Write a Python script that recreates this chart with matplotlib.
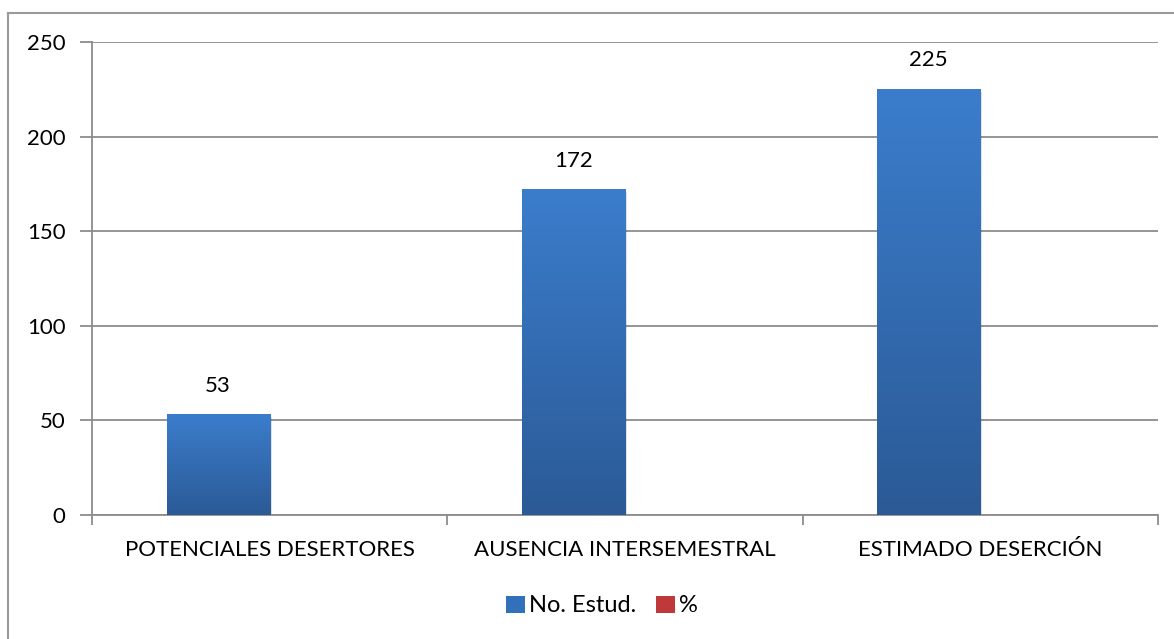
import numpy as np
import matplotlib
matplotlib.use("Agg")
import matplotlib.pyplot as plt
from matplotlib.patches import Rectangle, Patch
from matplotlib.lines import Line2D
from matplotlib.colors import LinearSegmentedColormap

plt.rcParams['font.family'] = ['Lato', 'DejaVu Sans']

categories = ['POTENCIALES DESERTORES', 'AUSENCIA INTERSEMESTRAL', 'ESTIMADO DESERCIÓN']
estud = [53, 172, 225]
pct = [0, 0, 0]  # second series, nothing visible in the chart
series_names = ['No. Estud.', '%']

fig = plt.figure(figsize=(11.74, 6.39), dpi=100)
ax = fig.add_axes([92/1174, 1 - 515/639, (1158 - 92)/1174, (515 - 42)/639])

# outer chart frame (only left/top visible in the crop)
fig.add_artist(Line2D([8/1174, 8/1174], [0, 1 - 13/639], transform=fig.transFigure,
                      color='#9a9a9a', lw=1.5))
fig.add_artist(Line2D([8/1174, 1], [1 - 13/639, 1 - 13/639], transform=fig.transFigure,
                      color='#9a9a9a', lw=1.5))

x = np.arange(len(categories))
w = 0.29
blue_cmap = LinearSegmentedColormap.from_list('b', ['#2b5a96', '#3b7dcc'])
red_cmap = LinearSegmentedColormap.from_list('r', ['#a32a28', '#d2403c'])
grad = np.linspace(0, 1, 256).reshape(-1, 1)

for i, v in enumerate(estud):
    x0 = x[i] - w
    # soft shadow
    ax.add_patch(Rectangle((x0 + 0.006, -1.2), w, v, facecolor='#000000', alpha=0.12,
                           edgecolor='none', zorder=2))
    ax.imshow(grad, extent=(x0, x0 + w, 0, v), origin='lower', cmap=blue_cmap,
              aspect='auto', zorder=3)
    ax.text(x[i] - w/2, v + 10, str(v), ha='center', va='bottom', fontsize=16, zorder=4)

for i, v in enumerate(pct):
    if v > 0:
        ax.imshow(grad, extent=(x[i], x[i] + w, 0, v), origin='lower', cmap=red_cmap,
                  aspect='auto', zorder=3)

ax.set_xlim(-0.5, len(categories) - 0.5)
ax.set_ylim(0, 250)

ax.set_yticks(np.arange(0, 251, 50))
ax.yaxis.grid(True, color='#8c8c8c', lw=1.3)
ax.set_axisbelow(True)
ax.set_xticks(x)
ax.set_xticklabels(categories)
ax.set_xticks(np.arange(-0.5, len(categories), 1), minor=True)
ax.tick_params(axis='x', which='major', length=0, pad=25, labelsize=16)
ax.tick_params(axis='x', which='minor', length=7, width=1.3, color='#8c8c8c')
ax.tick_params(axis='y', length=9, width=1.3, color='#8c8c8c', pad=10, labelsize=16)
for lab in ax.get_xticklabels():
    lab.set_verticalalignment('center')

for s in ['top', 'right']:
    ax.spines[s].set_visible(False)
for s in ['left', 'bottom']:
    ax.spines[s].set_color('#8c8c8c')
    ax.spines[s].set_linewidth(1.3)

handles = [Patch(facecolor='#3370bb', label=series_names[0]),
           Patch(facecolor='#c0393a', label=series_names[1])]
fig.legend(handles=handles, loc='center', bbox_to_anchor=(602/1174, 1 - 606/639), ncol=2,
           frameon=False, fontsize=17, handlelength=0.8, handleheight=0.7,
           handletextpad=0.2, columnspacing=0.8)

fig.savefig('out.png', dpi=100)
